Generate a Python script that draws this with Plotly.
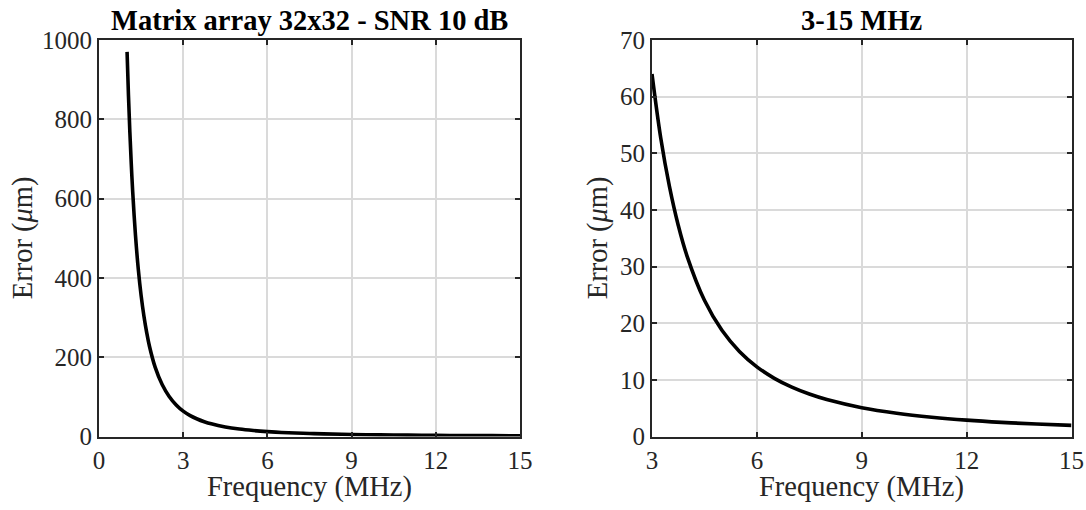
import plotly.graph_objects as go

# Data (frequency in MHz, error in micrometres)
freq = [1.0, 1.05, 1.1, 1.15, 1.2, 1.3, 1.4, 1.5, 1.6, 1.7, 1.8, 2.0, 2.25,
        2.5, 2.75, 3.0, 3.25, 3.5, 3.75, 4.0, 4.5, 5.0, 5.5, 6.0, 6.5, 7.0,
        7.5, 8.0, 9.0, 10.0, 11.0, 12.0, 13.0, 14.0, 15.0]
error_um = [970, 860, 767, 687, 618, 507, 422, 356, 304, 262, 227, 175, 131,
            101, 79.7, 64.0, 52.7, 44.1, 37.3, 31.9, 24.05, 18.75, 15.02,
            12.3, 10.27, 8.71, 7.49, 6.52, 5.09, 4.11, 3.41, 2.89, 2.50,
            2.20, 1.96]

# zoomed panel shows the 3-15 MHz band only
band_freq = [f for f in freq if f >= 3]
band_error = [e for f, e in zip(freq, error_um) if f >= 3]

left_title = "<b>Matrix array 32x32 - SNR 10 dB</b>"
right_title = "<b>3-15 MHz</b>"
x_label = "Frequency (MHz)"
y_label = "Error (<i>μ</i>m)"

left_xticks = [0, 3, 6, 9, 12, 15]
left_yticks = [0, 200, 400, 600, 800, 1000]
right_xticks = [3, 6, 9, 12, 15]
right_yticks = [0, 10, 20, 30, 40, 50, 60, 70]

W, H = 1086, 510
FONT = "Liberation Serif, Times New Roman, serif"
AX = "#262626"
GRID = "#dadada"

def px(x):
    return x / W

def py(y):
    return 1 - y / H

fig = go.Figure()
fig.add_trace(go.Scatter(x=freq, y=error_um, mode="lines", xaxis="x", yaxis="y",
                         line=dict(color="black", width=3.6, shape="spline"),
                         showlegend=False))
fig.add_trace(go.Scatter(x=band_freq, y=band_error, mode="lines", xaxis="x2",
                         yaxis="y2",
                         line=dict(color="black", width=3.6, shape="spline"),
                         showlegend=False))

common = dict(showline=True, linecolor=AX, linewidth=2, mirror="ticks",
              ticks="inside", ticklen=5, tickwidth=2, tickcolor=AX,
              showgrid=True, gridcolor=GRID, gridwidth=2, zeroline=False,
              tickfont=dict(family=FONT, size=25, color=AX), automargin=False)

L = (99, 520)
R = (652, 1071.5)
T, B = 40, 436.5

fig.update_layout(
    width=W, height=H, margin=dict(l=0, r=0, t=0, b=0),
    paper_bgcolor="white", plot_bgcolor="white",
    xaxis=dict(domain=[px(L[0]), px(L[1])], range=[0, 15], tickvals=left_xticks,
               anchor="y", **common),
    yaxis=dict(domain=[py(B), py(T)], range=[0, 1000], tickvals=left_yticks,
               anchor="x", **common),
    xaxis2=dict(domain=[px(R[0]), px(R[1])], range=[3, 15], tickvals=right_xticks,
                anchor="y2", **common),
    yaxis2=dict(domain=[py(B), py(T)], range=[0, 70], tickvals=right_yticks,
                anchor="x2", **common),
)

ann = []
for (x0, x1), title, ylx in [(L, left_title, 23), (R, right_title, 598)]:
    cx = (x0 + x1) / 2
    ann.append(dict(text=title, x=px(cx), y=py(21), xref="paper", yref="paper",
                    showarrow=False, xanchor="center", yanchor="middle",
                    font=dict(family=FONT, size=28.5, color="black")))
    ann.append(dict(text=x_label, x=px(cx), y=py(487), xref="paper", yref="paper",
                    showarrow=False, xanchor="center", yanchor="middle",
                    font=dict(family=FONT, size=28.5, color=AX)))
    ann.append(dict(text=y_label, x=px(ylx), y=py((T + B) / 2), xref="paper",
                    yref="paper", showarrow=False, xanchor="center",
                    yanchor="middle", textangle=-90,
                    font=dict(family=FONT, size=28.5, color=AX)))
fig.update_layout(annotations=ann)

fig.write_html("out.html")
